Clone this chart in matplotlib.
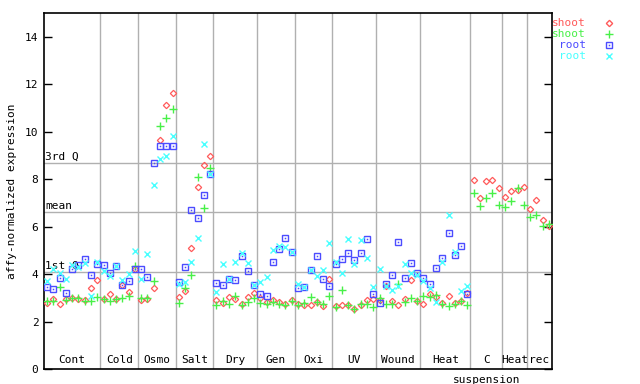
import numpy as np
import matplotlib
matplotlib.use("Agg")
import matplotlib.pyplot as plt
from matplotlib.lines import Line2D

nan = np.nan
groups = ["Cont", "Cold", "Osmo", "Salt", "Dry", "Gen", "Oxi", "UV", "Wound", "Heat", "C", "Heat", "rec"]
group_sizes = [9, 6, 6, 6, 7, 6, 6, 7, 7, 8, 5, 4, 4]

shoot_red = [2.78, 2.94, 2.74, 2.94, 2.99, 2.95, 2.90, 3.41, 3.75,
             2.94, 3.15, 2.95, 3.54, 3.25, 4.21,
             2.90, 2.95, 3.41, 9.64, 11.13, 11.62,
             3.03, 3.28, 5.09, 7.66, 8.59, 8.97,
             2.90, 2.78, 3.03, 2.94, 2.75, 3.03, 3.20,
             2.99, 2.82, 2.90, 2.82, 2.74, 2.90,
             2.74, 2.70, 2.70, 2.82, 2.65, 3.79,
             2.65, 2.70, 2.70, 2.53, 2.70, 2.90, 2.94,
             2.90, 3.49, 2.86, 2.70, 2.94, 3.75, 2.86,
             2.74, 3.16, 3.03, 2.78, 3.07, 2.78, 2.86, 3.20,
             7.96, 7.20, 7.92, 7.96, 7.62,
             7.24, 7.49, 7.54, 7.66,
             6.74, 7.11, 6.27, 6.02]
shoot_green = [2.86, 2.86, 3.45, 2.90, 2.99, 2.99, 2.86, 2.86, 3.03,
               2.94, 2.86, 2.94, 2.99, 3.07, 4.34,
               2.99, 2.99, 3.71, 10.23, 10.57, 10.95,
               2.78, 3.41, 3.96, 8.08, 6.78, 8.46,
               2.70, 2.86, 2.74, 3.07, 2.70, 2.82, 2.99,
               2.78, 2.74, 2.82, 2.74, 2.70, 2.86,
               2.70, 2.78, 3.03, 2.82, 2.74, 3.07,
               2.61, 3.32, 2.70, 2.53, 2.74, 2.74, 2.61,
               2.99, 2.74, 2.74, 3.58, 2.82, 2.99, 2.86,
               3.07, 3.03, 3.11, 2.74, 2.65, 2.74, 2.86, 2.70,
               7.41, 6.86, 7.20, 7.41, 6.90,
               6.82, 7.07, 7.62, 6.90,
               6.40, 6.48, 6.02, 6.10]
root_blue = [3.45, 3.37, 3.83, 3.20, 4.21, 4.38, 4.64, 3.96, 4.42,
             4.38, 4.04, 4.34, 3.54, 3.71, 4.21,
             4.21, 3.87, 8.67, 9.39, 9.39, 9.39,
             3.66, 4.29, 6.69, 6.36, 7.33, 8.21,
             3.62, 3.54, 3.81, 3.75, 4.76, 4.12, 3.52,
             3.16, 3.07, 4.50, 5.05, 5.51, 4.92,
             3.41, 3.44, 4.18, 4.76, 3.79, 3.49,
             4.43, 4.63, 4.88, 4.59, 4.88, 5.47, 3.16,
             2.78, 3.58, 3.96, 5.34, 3.83, 4.46, 4.04,
             3.83, 3.58, 4.25, 4.67, 5.72, 4.80, 5.17, 3.16,
             nan, nan, nan, nan, nan,
             nan, nan, nan, nan,
             nan, nan, nan, nan]
root_cyan = [3.71, 4.20, 4.04, 3.79, 4.38, 4.30, 4.46, 3.07, 4.49,
             4.12, 3.91, 4.34, 3.75, 4.00, 4.97,
             3.79, 4.84, 7.75, 8.84, 8.97, 9.81,
             3.58, 3.66, 4.50, 5.51, 9.47, 8.21,
             3.24, 4.42, 3.81, 4.50, 4.88, 4.46, 3.52,
             3.66, 3.87, 5.01, 5.19, 5.14, 4.92,
             3.58, 3.44, 4.18, 3.91, 4.16, 5.30,
             4.50, 4.04, 5.47, 4.43, 5.43, 4.67, 3.45,
             4.21, 3.49, 3.32, 3.49, 4.43, 4.04, 3.96,
             3.71, 3.41, 2.82, 4.50, 6.48, 4.92, 3.28, 3.49,
             nan, nan, nan, nan, nan,
             nan, nan, nan, nan,
             nan, nan, nan, nan]

q1, mean_v, q3 = 4.08, 6.61, 8.67
yticks = [0, 2, 4, 6, 8, 10, 12, 14]

RED, GREEN, BLUE, CYAN = "#ff5a5a", "#48f048", "#4c4cff", "#48ffff"
GRID = "#b0b0b0"
FONT = "DejaVu Sans Mono"
SIZES = {"D": 3.2, "+": 5.5, "s": 4.6, "x": 4.0}

fig = plt.figure(figsize=(6.4, 3.84), dpi=100)
ax = fig.add_axes([44 / 640, 15 / 384, 508 / 640, 356 / 384])
n = len(shoot_red)
x = np.arange(n) + 0.5
ax.set_xlim(0, n)
ax.set_ylim(0, 15)

bounds = np.cumsum(group_sizes)
for b in bounds[:-1]:
    ax.axvline(b, color=GRID, lw=1, zorder=1)
for yv in (q1, mean_v, q3):
    ax.axhline(yv, color=GRID, lw=1, zorder=1)
ax.text(0.2, q3 + 0.05, "3rd Q", fontsize=8, family=FONT, va="bottom", ha="left")
ax.text(0.2, mean_v + 0.05, "mean", fontsize=8, family=FONT, va="bottom", ha="left")
ax.text(0.2, q1 + 0.05, "1st Q", fontsize=8, family=FONT, va="bottom", ha="left")

starts = np.concatenate([[0], bounds[:-1]])
for g, s, e in zip(groups, starts, bounds):
    ax.text((s + e) / 2, 0.15, g, fontsize=8, family=FONT, ha="center", va="bottom")
ax.text((starts[10] + bounds[10]) / 2, -0.25, "suspension", fontsize=8, family=FONT,
        ha="center", va="top", clip_on=False)

ms = dict(linestyle="none", zorder=3)
ax.plot(x, shoot_red, marker="D", ms=SIZES["D"], mfc="none", mec=RED, mew=0.9, **ms)
ax.plot(x, shoot_green, marker="+", ms=SIZES["+"], mec=GREEN, mew=1.0, **ms)
ax.plot(x, root_blue, marker="s", ms=SIZES["s"], mfc="none", mec=BLUE, mew=1.0, **ms)
ax.plot(x, root_blue, marker="s", ms=1.1, mfc=BLUE, mec=BLUE, mew=0, **ms)
ax.plot(x, root_cyan, marker="x", ms=SIZES["x"], mec=CYAN, mew=1.0, **ms)

ax.set_xticks([])
ax.set_yticks(yticks)
ax.set_yticklabels([str(t) for t in yticks], family=FONT, fontsize=8)
ax.tick_params(axis="y", direction="in", length=6, width=1, right=True, left=True, pad=4)
for sp in ax.spines.values():
    sp.set_linewidth(1.2)
ax.set_ylabel("affy-normalized expression", family=FONT, fontsize=8, labelpad=6)

leg = [("shoot", RED, "D"), ("shoot", GREEN, "+"), ("root", BLUE, "s"), ("root", CYAN, "x")]
for k, (lab, col, mk) in enumerate(leg):
    yy = 1 - (23 + 11 * k) / 384
    fig.text(586 / 640, yy, lab, color=col, family=FONT, fontsize=8, ha="right", va="center")
    kw = dict(mfc="none") if mk in ("D", "s") else {}
    fig.add_artist(Line2D([609 / 640], [yy], marker=mk, ms=SIZES[mk], mec=col, mew=1.0,
                          linestyle="none", transform=fig.transFigure, **kw))
    if mk == "s":
        fig.add_artist(Line2D([609 / 640], [yy], marker="s", ms=1.1, mfc=col, mec=col, mew=0,
                              linestyle="none", transform=fig.transFigure))

fig.savefig("out.png", dpi=100)
